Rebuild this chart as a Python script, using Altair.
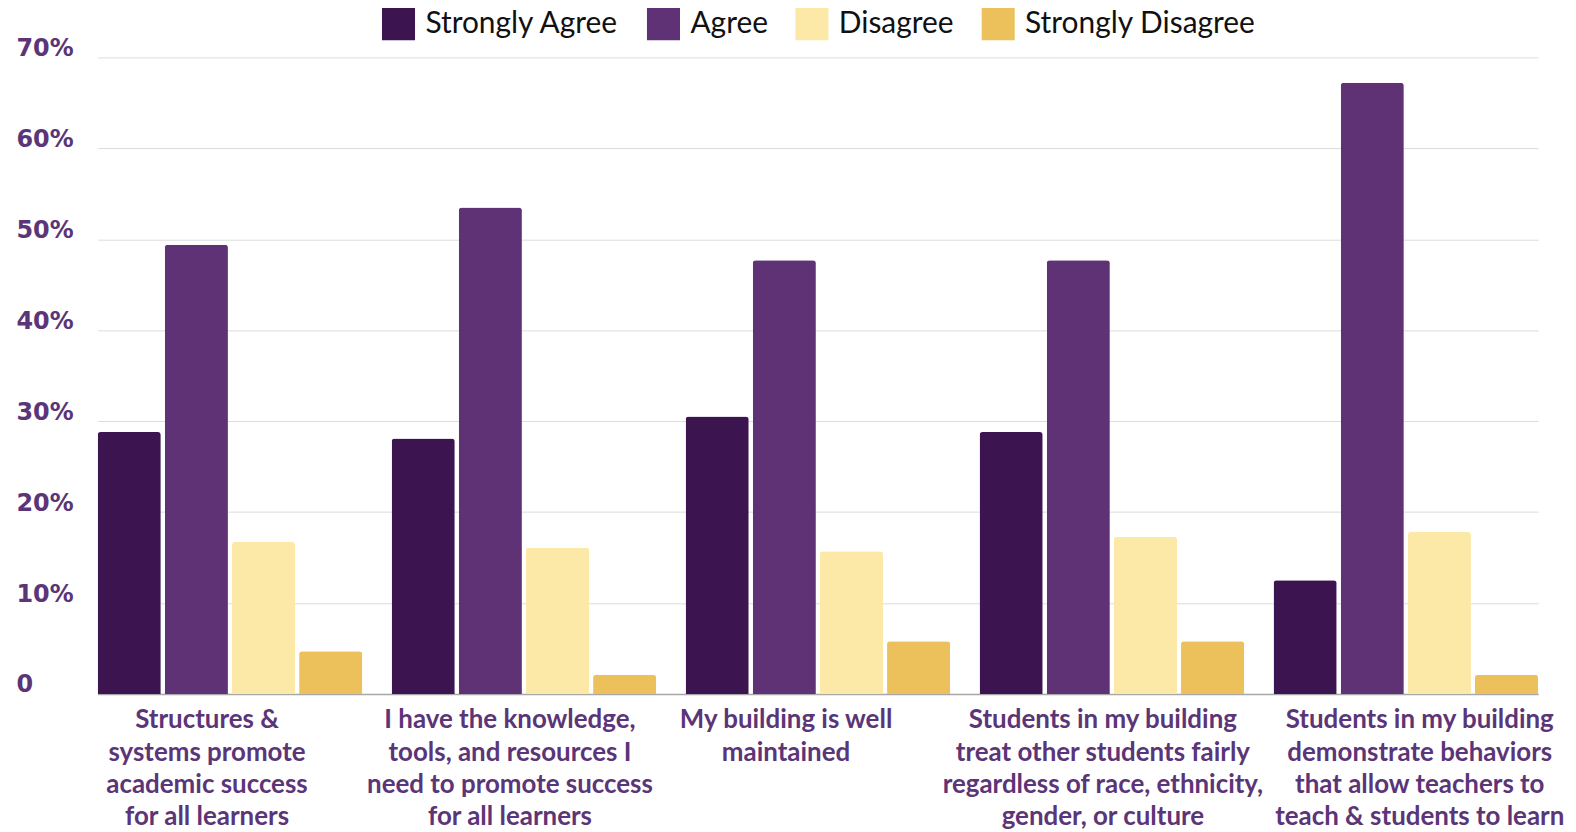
import altair as alt
import pandas as pd

questions = [
    "Structures &|systems promote|academic success|for all learners",
    "I have the knowledge,|tools, and resources I|need to promote success|for all learners",
    "My building is well|maintained",
    "Students in my building|treat other students fairly|regardless of race, ethnicity,|gender, or culture",
    "Students in my building|demonstrate behaviors|that allow teachers to|teach & students to learn",
]
responses = ["Strongly Agree", "Agree", "Disagree", "Strongly Disagree"]
strongly_agree = [28.8, 28.1, 30.5, 28.8, 12.5]
agree = [49.4, 53.5, 47.7, 47.7, 67.2]
disagree = [16.7, 16.1, 15.7, 17.3, 17.8]
strongly_disagree = [4.7, 2.1, 5.8, 5.8, 2.1]
colors = ["#3b1450", "#5f3275", "#fce9a8", "#ecc05a"]
y_ticks = [0, 10, 20, 30, 40, 50, 60, 70]

series = [strongly_agree, agree, disagree, strongly_disagree]
rows = []
for resp, vals in zip(responses, series):
    for q, v in zip(questions, vals):
        rows.append({"question": q, "response": resp, "value": v})
df = pd.DataFrame(rows)

# horizontal nudges of the category labels, as placed in the original layout
label_offset = {
    "condition": [
        {"test": "indexof(datum.value, 'Structures') === 0", "value": -23},
        {"test": "indexof(datum.value, 'I have') === 0", "value": -14},
        {"test": "indexof(datum.value, 'My building') === 0", "value": -32},
        {"test": "indexof(datum.value, 'treat other') >= 0", "value": -9},
    ],
    "value": 14,
}

chart = alt.Chart(df).mark_bar(cornerRadiusTopLeft=3, cornerRadiusTopRight=3).encode(
    x=alt.X(
        "question:N",
        sort=questions,
        title=None,
        scale=alt.Scale(paddingInner=0.1, paddingOuter=0),
        axis=alt.Axis(
            labelExpr="split(datum.label, '|')",
            labelAngle=0,
            labelFont="Lato",
            labelFontWeight="bold",
            labelFontSize=26,
            labelColor="#5b3577",
            labelLineHeight=32.5,
            labelBaseline="top",
            labelPadding=13,
            labelOffset=label_offset,
            ticks=False,
            tickSize=0,
            domainColor="#a8a8a8",
            domainWidth=1.5,
            labelLimit=0,
        ),
    ),
    xOffset=alt.XOffset(
        "response:N",
        sort=responses,
        scale=alt.Scale(paddingInner=0.06, paddingOuter=0),
    ),
    y=alt.Y(
        "value:Q",
        title=None,
        scale=alt.Scale(domain=[0, 70], nice=False),
        axis=alt.Axis(
            values=y_ticks,
            labelExpr="datum.value == 0 ? '0' : datum.value + '%'",
            labelFont="DejaVu Sans",
            labelFontWeight="bold",
            labelFontSize=24,
            labelColor="#5b3577",
            labelAlign="left",
            labelPadding=82,
            labelOffset=-9,
            ticks=False,
            tickSize=0,
            domain=False,
            gridColor="#dcdcdc",
            gridWidth=1,
        ),
    ),
    color=alt.Color(
        "response:N",
        sort=responses,
        scale=alt.Scale(domain=responses, range=colors),
        legend=alt.Legend(
            title=None,
            orient="none",
            legendX=285,
            legendY=-51,
            direction="horizontal",
            symbolType="square",
            symbolSize=1100,
            symbolStrokeWidth=0,
            symbolOpacity=1,
            labelFont="Lato",
            labelFontSize=30,
            labelColor="#111111",
            labelOffset=10,
            columnPadding=27,
            labelLimit=0,
        ),
    ),
).properties(
    width=1446,
    height=639,
    background="white",
    autosize=alt.AutoSizeParams(type="none"),
    padding={"left": 90, "top": 48, "right": 30, "bottom": 137},
).configure_view(stroke=None)

chart.save("out.html", embed_options={"renderer": "svg", "actions": False})
